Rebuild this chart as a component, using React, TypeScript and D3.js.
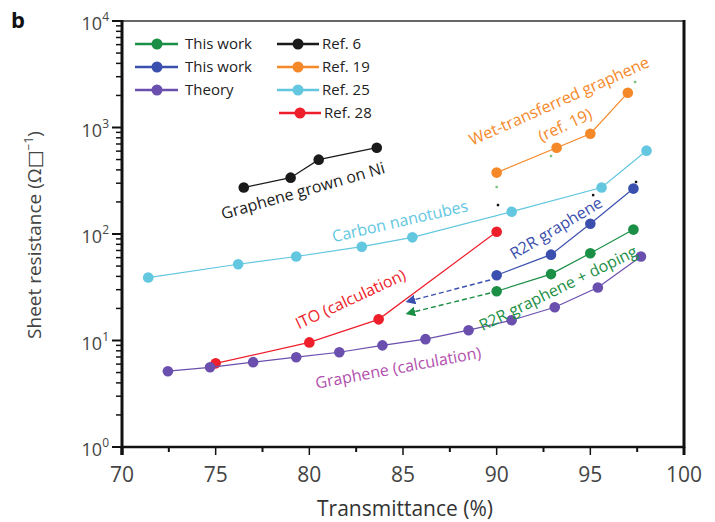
import * as d3 from "d3";
import React from "react";

// Transmittance (%) and sheet resistance (ohm/sq)
const dopingT = [90.0, 92.9, 95.0, 97.3];
const dopingR = [29, 42, 66, 110];
const r2rT = [90.0, 92.9, 95.0, 97.3];
const r2rR = [41, 64, 125, 267];
const theoryT = [72.45, 74.7, 77.0, 79.3, 81.6, 83.9, 86.2, 88.5, 90.8, 93.1, 95.4, 97.7];
const theoryR = [5.15, 5.6, 6.26, 6.97, 7.76, 9.0, 10.3, 12.5, 15.5, 20.5, 31.5, 61.5];
const ref6T = [76.5, 79.0, 80.5, 83.6];
const ref6R = [273, 338, 499, 646];
const ref19T = [90.0, 93.2, 95.0, 97.0];
const ref19R = [377, 646, 874, 2118];
const ref25T = [71.4, 76.2, 79.3, 82.8, 85.5, 90.8, 95.6, 98.0];
const ref25R = [39, 52, 61.5, 76, 93, 162, 273, 606];
const ref28T = [75.0, 80.0, 83.7, 90.0];
const ref28R = [6.1, 9.6, 15.8, 105];

const xTicks = [70, 75, 80, 85, 90, 95, 100];
const xMinor = [72.5, 77.5, 82.5, 87.5, 92.5, 97.5];
const yExponents = [0, 1, 2, 3, 4];

// stray specks in the original figure
const speckT = [90.07, 97.44, 95.15, 90.0, 92.9, 97.39];
const speckR = [187, 308, 232, 276, 540, 2675];
const speckC = ["#111", "#111", "#111", "#7cc07c", "#7cc07c", "#7cc07c"];

const C = {
  green: "#1b8f45",
  blue: "#3b50ae",
  purple: "#6a4fae",
  black: "#1a1a1a",
  orange: "#f5892a",
  cyan: "#62c7df",
  red: "#ee1f2b",
  magenta: "#b24fae",
};

type Series = { key: string; t: number[]; r: number[]; color: string };

const series: Series[] = [
  { key: "ref25", t: ref25T, r: ref25R, color: C.cyan },
  { key: "ref6", t: ref6T, r: ref6R, color: C.black },
  { key: "ref19", t: ref19T, r: ref19R, color: C.orange },
  { key: "ref28", t: ref28T, r: ref28R, color: C.red },
  { key: "theory", t: theoryT, r: theoryR, color: C.purple },
  { key: "r2r", t: r2rT, r: r2rR, color: C.blue },
  { key: "doping", t: dopingT, r: dopingR, color: C.green },
];

// annotation labels: anchor in data coords, rotation in degrees
const labels = [
  { text: "Graphene grown on Ni", t: 79.66, r: 255, rot: -16, color: C.black, size: 16 },
  { text: "Carbon nanotubes", t: 84.84, r: 132, rot: -13, color: C.cyan, size: 16 },
  { text: "Wet-transferred graphene", t: 93.33, r: 1774, rot: -24, color: C.orange, size: 16 },
  { text: "(ref. 19)", t: 93.65, r: 1056, rot: -25, color: C.orange, size: 16 },
  { text: "R2R graphene", t: 93.17, r: 114, rot: -31, color: C.blue, size: 16 },
  { text: "R2R graphene + doping", t: 93.28, r: 31, rot: -26, color: C.green, size: 16 },
  { text: "ITO (calculation)", t: 82.2, r: 24.5, rot: -25, color: C.red, size: 16 },
  { text: "Graphene (calculation)", t: 84.74, r: 5.55, rot: -10.6, color: C.magenta, size: 16 },
];

// dashed arrows from the first R2R points back toward lower transmittance
const arrows = [
  { t0: 89.65, r0: 37, t1: 85.54, r1: 24.0, color: C.blue },
  { t0: 89.65, r0: 27.9, t1: 85.54, r1: 18.5, color: C.green },
];

const legendLeft = [
  { label: "This work", color: C.green },
  { label: "This work", color: C.blue },
  { label: "Theory", color: C.purple },
];
const legendRight = [
  { label: "Ref. 6", color: C.black },
  { label: "Ref. 19", color: C.orange },
  { label: "Ref. 25", color: C.cyan },
  { label: "Ref. 28", color: C.red },
];

const FONT = "'Open Sans', 'DejaVu Sans', sans-serif";

export default function App(): React.ReactElement {
  const width = 715;
  const height = 522;
  const left = 122;
  const right = 684;
  const top = 21;
  const bottom = 447;

  const x = d3.scaleLinear().domain([70, 100]).range([left, right]);
  const y = d3.scaleLog().domain([1, 1e4]).range([bottom, top]);

  const line = d3
    .line<[number, number]>()
    .x((d) => x(d[0]))
    .y((d) => y(d[1]));

  const minorY: number[] = [];
  for (let e = 0; e < 4; e++) {
    for (let m = 2; m <= 9; m++) minorY.push(m * Math.pow(10, e));
  }

  return (
    <div style={{ position: "absolute", left: 0, top: 0 }}>
      <svg width={width} height={height} fontFamily={FONT}>
        <defs>
          {arrows.map((a, i) => (
            <marker
              key={`m-${i}`}
              id={`arrow-${i}`}
              viewBox="0 0 10 10"
              refX={2}
              refY={5}
              markerWidth={7}
              markerHeight={7}
              orient="auto-start-reverse"
            >
              <path d="M0,0 L10,5 L0,10 z" fill={a.color} />
            </marker>
          ))}
        </defs>
        <rect width={width} height={height} fill="#fff" />

        <text x={11} y={28} fontSize={22} fontWeight="bold" fill="#111">
          b
        </text>

        {/* frame */}
        <line x1={left} x2={right} y1={top} y2={top} stroke="#666" strokeWidth={2} />
        <line x1={right} x2={right} y1={top - 1} y2={bottom + 1} stroke="#111" strokeWidth={3} />
        <line x1={left} x2={left} y1={top - 1} y2={bottom + 8} stroke="#111" strokeWidth={3} />
        <line x1={left - 1} x2={right + 1} y1={bottom} y2={bottom} stroke="#111" strokeWidth={2.5} />

        {/* y ticks */}
        {minorY.map((v) => (
          <line key={`ym-${v}`} x1={left - 6} x2={left} y1={y(v)} y2={y(v)} stroke="#111" strokeWidth={1.5} />
        ))}
        {yExponents.map((e) => (
          <g key={`yt-${e}`}>
            <line x1={left - 10} x2={left} y1={y(Math.pow(10, e))} y2={y(Math.pow(10, e))} stroke="#111" strokeWidth={2} />
            <text x={left - 13} y={y(Math.pow(10, e)) + 9} textAnchor="end" fontSize={18} fill="#444">
              10
              <tspan fontSize={12} dy={-9}>
                {e}
              </tspan>
            </text>
          </g>
        ))}

        {/* x ticks */}
        {xMinor.map((t) => (
          <line key={`xm-${t}`} x1={x(t)} x2={x(t)} y1={bottom} y2={bottom + 5} stroke="#111" strokeWidth={2} />
        ))}
        {xTicks.map((t) => (
          <g key={`xt-${t}`}>
            <line x1={x(t)} x2={x(t)} y1={bottom} y2={bottom + 8} stroke="#111" strokeWidth={t === 70 || t === 100 ? 3 : 1.5} />
            <text x={x(t)} y={482} textAnchor="middle" fontSize={21} fill="#444">
              {t}
            </text>
          </g>
        ))}

        <text x={(left + right) / 2 + 2} y={516} textAnchor="middle" fontSize={21} fill="#333">
          Transmittance (%)
        </text>
        <text
          transform={`translate(41,235) rotate(-90)`}
          textAnchor="middle"
          fontSize={19}
          fill="#444"
        >
          Sheet resistance (Ω□
          <tspan fontSize={12} dy={-8}>
            −1
          </tspan>
          <tspan dy={8}>)</tspan>
        </text>

        {/* dashed arrows */}
        {arrows.map((a, i) => (
          <line
            key={`ar-${i}`}
            x1={x(a.t0)}
            y1={y(a.r0)}
            x2={x(a.t1)}
            y2={y(a.r1)}
            stroke={a.color}
            strokeWidth={1.4}
            strokeDasharray="5,3"
            markerEnd={`url(#arrow-${i})`}
          />
        ))}

        {/* series */}
        {series.map((s) => {
          const pts = s.t.map((t, i) => [t, s.r[i]] as [number, number]);
          return (
            <g key={s.key}>
              <path d={line(pts) ?? ""} fill="none" stroke={s.color} strokeWidth={1.2} />
              {pts.map((p, i) => (
                <circle key={i} cx={x(p[0])} cy={y(p[1])} r={5.3} fill={s.color} />
              ))}
            </g>
          );
        })}

        {speckT.map((t, i) => (
          <rect key={`sp-${i}`} x={x(t) - 1.2} y={y(speckR[i]) - 1.2} width={2.4} height={2.4} fill={speckC[i]} />
        ))}

        {/* annotations */}
        {labels.map((l) => (
          <text
            key={l.text}
            transform={`translate(${x(l.t)},${y(l.r)}) rotate(${l.rot})`}
            textAnchor="middle"
            dy="0.35em"
            fontSize={l.size}
            fill={l.color}
          >
            {l.text}
          </text>
        ))}

        {/* legend */}
        {legendLeft.map((d, i) => (
          <g key={`ll-${i}`} transform={`translate(135,${44 + i * 23})`}>
            <line x1={0} x2={43} stroke={d.color} strokeWidth={2.5} />
            <circle cx={22} r={5.5} fill={d.color} />
            <text x={50} dy="0.35em" fontSize={15} fill="#222">
              {d.label}
            </text>
          </g>
        ))}
        {legendRight.map((d, i) => (
          <g key={`lr-${i}`} transform={`translate(${277 + (i === 3 ? 2 : 0)},${44 + i * 23})`}>
            <line x1={0} x2={42} stroke={d.color} strokeWidth={2.5} />
            <circle cx={21} r={5.5} fill={d.color} />
            <text x={45} dy="0.35em" fontSize={15} fill="#222">
              {d.label}
            </text>
          </g>
        ))}
      </svg>
    </div>
  );
}
